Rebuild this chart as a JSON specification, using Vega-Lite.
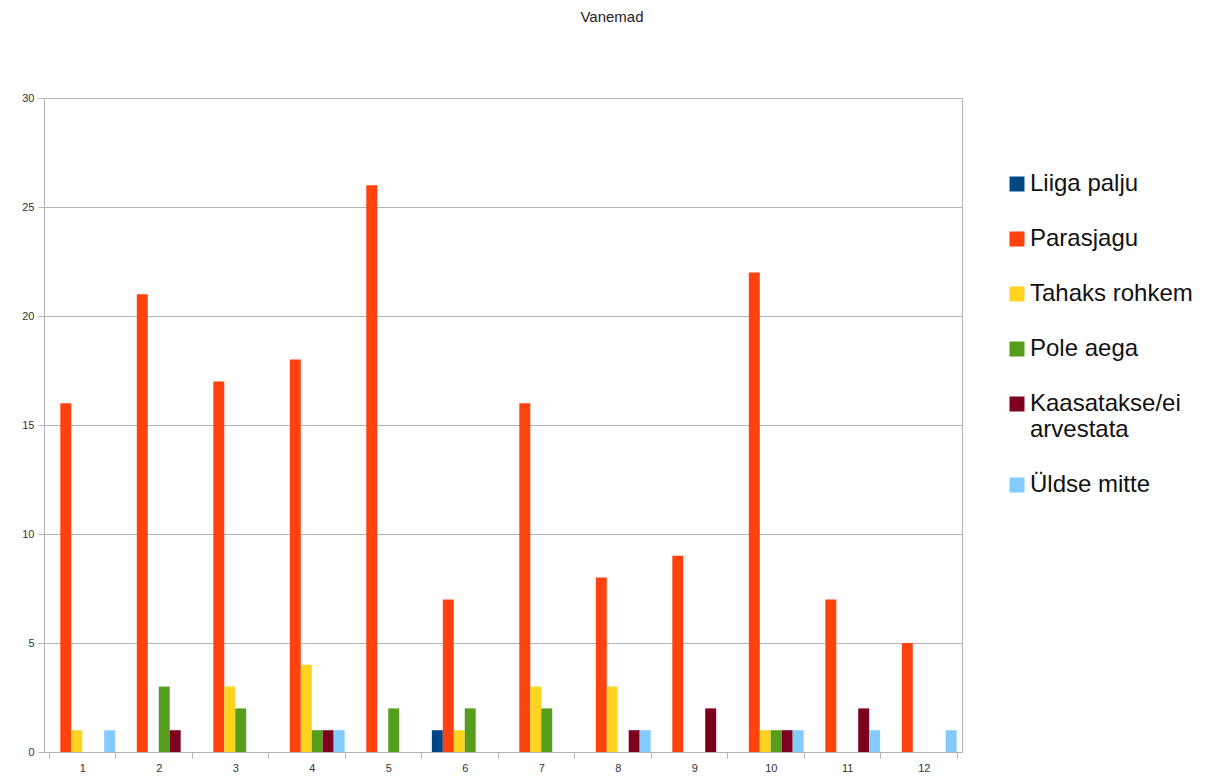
{
  "$schema": "https://vega.github.io/schema/vega-lite/v6.json",
  "autosize": {"type": "none"},
  "padding": {"left": 44, "top": 98, "right": 243, "bottom": 31},
  "width": 918,
  "height": 654,
  "background": "white",
  "title": {"text": "Vanemad", "font": "Liberation Sans", "fontSize": 15, "fontWeight": "normal", "color": "#222222", "anchor": "middle", "dx": 109, "offset": 67},
  "data": {"values": [
    {"g": "1", "s": "Parasjagu", "v": 16}, {"g": "1", "s": "Tahaks rohkem", "v": 1}, {"g": "1", "s": "Üldse mitte", "v": 1},
    {"g": "2", "s": "Parasjagu", "v": 21}, {"g": "2", "s": "Pole aega", "v": 3}, {"g": "2", "s": "Kaasatakse/ei arvestata", "v": 1},
    {"g": "3", "s": "Parasjagu", "v": 17}, {"g": "3", "s": "Tahaks rohkem", "v": 3}, {"g": "3", "s": "Pole aega", "v": 2},
    {"g": "4", "s": "Parasjagu", "v": 18}, {"g": "4", "s": "Tahaks rohkem", "v": 4}, {"g": "4", "s": "Pole aega", "v": 1}, {"g": "4", "s": "Kaasatakse/ei arvestata", "v": 1}, {"g": "4", "s": "Üldse mitte", "v": 1},
    {"g": "5", "s": "Parasjagu", "v": 26}, {"g": "5", "s": "Pole aega", "v": 2},
    {"g": "6", "s": "Liiga palju", "v": 1}, {"g": "6", "s": "Parasjagu", "v": 7}, {"g": "6", "s": "Tahaks rohkem", "v": 1}, {"g": "6", "s": "Pole aega", "v": 2},
    {"g": "7", "s": "Parasjagu", "v": 16}, {"g": "7", "s": "Tahaks rohkem", "v": 3}, {"g": "7", "s": "Pole aega", "v": 2},
    {"g": "8", "s": "Parasjagu", "v": 8}, {"g": "8", "s": "Tahaks rohkem", "v": 3}, {"g": "8", "s": "Kaasatakse/ei arvestata", "v": 1}, {"g": "8", "s": "Üldse mitte", "v": 1},
    {"g": "9", "s": "Parasjagu", "v": 9}, {"g": "9", "s": "Kaasatakse/ei arvestata", "v": 2},
    {"g": "10", "s": "Parasjagu", "v": 22}, {"g": "10", "s": "Tahaks rohkem", "v": 1}, {"g": "10", "s": "Pole aega", "v": 1}, {"g": "10", "s": "Kaasatakse/ei arvestata", "v": 1}, {"g": "10", "s": "Üldse mitte", "v": 1},
    {"g": "11", "s": "Parasjagu", "v": 7}, {"g": "11", "s": "Kaasatakse/ei arvestata", "v": 2}, {"g": "11", "s": "Üldse mitte", "v": 1},
    {"g": "12", "s": "Parasjagu", "v": 5}, {"g": "12", "s": "Üldse mitte", "v": 1}
  ]},
  "mark": {"type": "bar"},
  "encoding": {
    "x": {
      "field": "g", "type": "nominal",
      "sort": ["1","2","3","4","5","6","7","8","9","10","11","12"],
      "scale": {"domain": ["1","2","3","4","5","6","7","8","9","10","11","12"], "paddingInner": 0.14, "paddingOuter": 0.07},
      "axis": {"title": null, "labelAngle": 0, "labelFont": "Liberation Sans", "labelFontSize": 11, "labelColor": "#333333", "domainColor": "#b3b3b3", "tickColor": "#b3b3b3", "tickBand": "extent", "tickSize": 6, "labelPadding": 4}
    },
    "xOffset": {
      "field": "s", "type": "nominal",
      "scale": {"domain": ["Liiga palju", "Parasjagu", "Tahaks rohkem", "Pole aega", "Kaasatakse/ei arvestata", "Üldse mitte"], "paddingInner": 0, "paddingOuter": 0}
    },
    "y": {
      "field": "v", "type": "quantitative",
      "scale": {"domain": [0, 30], "nice": false},
      "axis": {"title": null, "values": [0,5,10,15,20,25,30], "labelFont": "Liberation Sans", "labelFontSize": 11, "labelColor": "#333333", "domainColor": "#b3b3b3", "tickColor": "#b3b3b3", "gridColor": "#b3b3b3", "tickSize": 6, "labelPadding": 4}
    },
    "color": {
      "field": "s", "type": "nominal",
      "scale": {"domain": ["Liiga palju", "Parasjagu", "Tahaks rohkem", "Pole aega", "Kaasatakse/ei arvestata", "Üldse mitte"],
                "range": ["#004586", "#ff420e", "#ffd320", "#579d1c", "#7e0021", "#83caff"]},
      "legend": {
        "title": null, "orient": "none", "legendX": 961, "legendY": 74,
        "symbolType": "square", "symbolSize": 225, "symbolStrokeWidth": 0,
        "labelFont": "Liberation Sans", "labelFontSize": 24, "labelColor": "#111111",
        "labelExpr": "datum.label == 'Kaasatakse/ei arvestata' ? ['Kaasatakse/ei', 'arvestata'] : datum.label",
        "rowPadding": 31, "labelOffset": 1, "labelLimit": 300
      }
    }
  },
  "config": {"view": {"stroke": "#b3b3b3"}}
}
